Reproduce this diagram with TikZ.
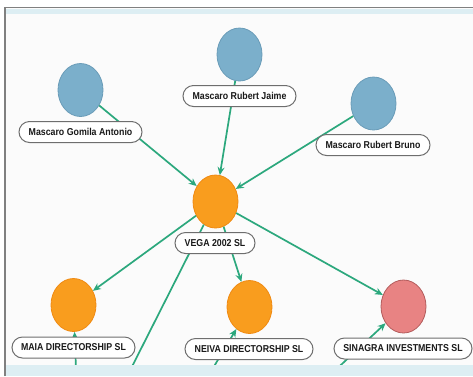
\documentclass[tikz,border=0pt]{standalone}
\usepackage{fontspec}
\setmainfont{Liberation Sans}
\newfontfamily\lblfont[FakeStretch=0.88]{Liberation Sans}
\usetikzlibrary{shapes.geometric,arrows.meta}
\definecolor{panelbg}{HTML}{FBFBFB}
\definecolor{band}{HTML}{DDEEF3}
\definecolor{framec}{HTML}{808080}
\definecolor{bluef}{HTML}{7BAFCB}
\definecolor{blued}{HTML}{6A9CB8}
\definecolor{orangef}{HTML}{F99D1E}
\definecolor{oranged}{HTML}{F08A12}
\definecolor{pinkf}{HTML}{E88383}
\definecolor{pinkd}{HTML}{B35C5C}
\definecolor{edgec}{HTML}{2CA87D}
\definecolor{labeld}{HTML}{6E6E6E}
\tikzset{
  ent/.style={ellipse, minimum width=45pt, minimum height=53pt, inner sep=0pt, line width=0.8pt},
  person/.style={ent, fill=bluef, draw=blued},
  company/.style={ent, fill=orangef, draw=oranged},
  target/.style={ent, fill=pinkf, draw=pinkd},
  lbl/.style={draw=labeld, fill=white, line width=1pt, rounded corners=10.5pt,
    minimum height=21pt, inner xsep=9pt, inner ysep=0pt,
    font=\lblfont\bfseries\fontsize{10}{11}\selectfont, text=black!90},
  link/.style={draw=edgec, line width=1.7pt, -{Stealth[length=8pt,width=7pt]}},
}
\begin{document}
\begin{tikzpicture}[x=1pt,y=-1pt]
\useasboundingbox (0,0) rectangle (473,376);
\fill[white] (0,0) rectangle (473,376);
\fill[panelbg] (5,7.5) rectangle (473,376);
\fill[band] (5.5,8.5) rectangle (473,14);

% entity circles
\node[person] (jaime) at (239.5,54.5) {};
\node[person] (gomila) at (80.5,90) {};
\node[person] (bruno) at (373.5,103.5) {};
\node[company] (vega) at (215.5,201.5) {};
\node[company] (maia) at (73.5,305) {};
\node[company] (neiva) at (249.5,307) {};
\node[target] (sinagra) at (403.5,306.5) {};

% off-picture ends
\coordinate (offa) at (105,420);
\coordinate (offb) at (78,420);
\coordinate (offc) at (182,420);
\coordinate (offd) at (282,420);

\begin{scope}
\clip (5,14) rectangle (473,365);
\draw[link] (gomila) -- (vega);
\draw[link] (jaime) -- (vega);
\draw[link] (bruno) -- (vega);
\draw[link] (vega) -- (maia);
\draw[link] (vega) -- (neiva);
\draw[link] (vega) -- (sinagra);
\draw[link] (vega) -- (offa);
\draw[link] (offb) -- (maia);
\draw[link] (offc) -- (neiva);
\draw[link] (offd) -- (sinagra);
\end{scope}

% labels
\node[lbl, minimum width=113pt] (jaimeL) at (239.5,96) {Mascaro Rubert Jaime};
\node[lbl, minimum width=123pt] (gomilaL) at (80.5,132) {Mascaro Gomila Antonio};
\node[lbl, minimum width=114pt] (brunoL) at (373,145) {Mascaro Rubert Bruno};
\node[lbl, minimum width=80pt] (vegaL) at (215,243) {VEGA 2002 SL};
\node[lbl, minimum width=123pt] (maiaL) at (73.5,347.5) {MAIA DIRECTORSHIP SL};
\node[lbl, minimum width=128pt] (neivaL) at (249,349) {NEIVA DIRECTORSHIP SL};
\node[lbl, minimum width=138pt] (sinagraL) at (403,348.5) {SINAGRA INVESTMENTS SL};

% bottom band and frame
\fill[band] (5.5,365) rectangle (473,376);
\draw[framec, line width=1.5pt] (5,376) -- (5,7.5) -- (473,7.5);
\end{tikzpicture}
\end{document}
